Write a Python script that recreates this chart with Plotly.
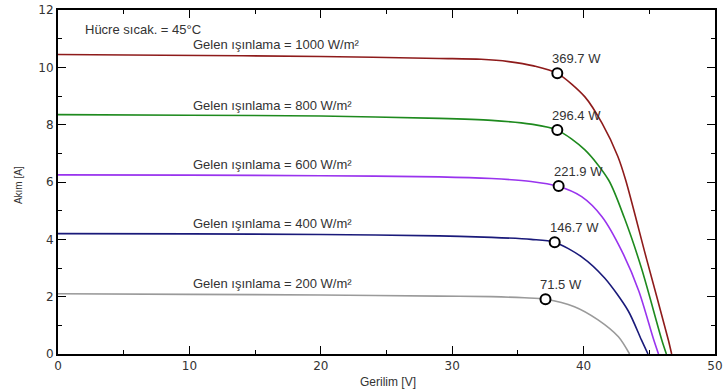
import plotly.graph_objects as go

# ---- data ----
irradiance_labels = ["Gelen ışınlama = 1000 W/m²", "Gelen ışınlama = 800 W/m²",
                     "Gelen ışınlama = 600 W/m²", "Gelen ışınlama = 400 W/m²",
                     "Gelen ışınlama = 200 W/m²"]
colors = ["#8e1b1b", "#1e8a1e", "#9933ee", "#1a1a7a", "#9a9a9a"]

v_1000 = [0, 8, 20, 29, 32.2, 34.3, 36.2, 38.0, 40.1, 41.4, 42.6, 43.2, 44.8, 46.45, 46.7]
i_1000 = [10.45, 10.42, 10.38, 10.31, 10.28, 10.2, 10.05, 9.79, 8.97, 8.05, 6.9, 6.07, 3.3, 0.49, 0]

v_800 = [0, 10, 20, 29, 33, 36, 38.0, 40.1, 41.9, 43.1, 44.4, 45.95, 46.3]
i_800 = [8.35, 8.33, 8.3, 8.22, 8.15, 8.02, 7.81, 7.12, 6.07, 4.75, 3.0, 0.49, 0]

v_600 = [0, 10, 20, 29, 33, 36, 38.0, 39.85, 41.4, 42.9, 44.2, 45.3, 45.7]
i_600 = [6.25, 6.24, 6.22, 6.18, 6.12, 6.02, 5.86, 5.49, 4.79, 3.6, 2.2, 0.55, 0]

v_400 = [0, 10, 20, 29, 33, 36, 37.8, 39.85, 41.6, 43.4, 44.4, 44.9]
i_400 = [4.2, 4.19, 4.17, 4.12, 4.07, 4.0, 3.9, 3.39, 2.65, 1.5, 0.49, 0]

v_200 = [0, 10, 20, 29, 33, 35.5, 37.1, 39.3, 41.1, 42.65, 43.5]
i_200 = [2.1, 2.08, 2.06, 2.02, 2.0, 1.96, 1.91, 1.65, 1.19, 0.6, 0]

mpp_v = [38.0, 38.0, 38.1, 37.8, 37.1]
mpp_i = [9.79, 7.81, 5.86, 3.9, 1.91]
mpp_labels = ["369.7 W", "296.4 W", "221.9 W", "146.7 W", "71.5 W"]

label_v = [10.1, 10.1, 10.1, 10.1, 10.1]
label_i = [10.8, 8.68, 6.62, 4.56, 2.47]

temp_label = "Hücre sıcak. = 45°C"
x_title = "Gerilim [V]"
y_title = "Akım [A]"

curves_v = [v_1000, v_800, v_600, v_400, v_200]
curves_i = [i_1000, i_800, i_600, i_400, i_200]

fig = go.Figure()
for vv, ii, c in zip(curves_v, curves_i, colors):
    fig.add_trace(go.Scatter(x=vv, y=ii, mode="lines",
                             line=dict(color=c, width=1.6, shape="spline", smoothing=0.8),
                             showlegend=False, hoverinfo="skip"))

fig.add_trace(go.Scatter(x=mpp_v, y=mpp_i, mode="markers",
                         marker=dict(symbol="circle", size=10, color="white",
                                     line=dict(color="black", width=2)),
                         showlegend=False))

txt_font = dict(family="Liberation Sans, Arial, sans-serif", size=13, color="#333333")
for v, i, t in zip(mpp_v, mpp_i, mpp_labels):
    fig.add_annotation(x=v, y=i, text=t, showarrow=False, xanchor="left", yanchor="bottom",
                       xshift=-7, yshift=5, font=txt_font)
for v, i, t in zip(label_v, label_i, irradiance_labels):
    fig.add_annotation(x=v, y=i, text=t, showarrow=False, xanchor="left", yanchor="middle",
                       font=txt_font)
fig.add_annotation(x=1.9, y=11.32, text=temp_label, showarrow=False, xanchor="left",
                   yanchor="middle", font=txt_font)

# axis titles as annotations for exact placement
fig.add_annotation(xref="paper", yref="paper", x=0.502, y=0, yshift=-28, text=x_title,
                   showarrow=False, xanchor="center", yanchor="middle",
                   font=dict(family="Liberation Sans, Arial, sans-serif", size=12, color="#333333"))
fig.add_annotation(xref="paper", yref="paper", x=0, y=0.491, xshift=-40, text=y_title,
                   textangle=-90, showarrow=False, xanchor="center", yanchor="middle",
                   font=dict(family="Liberation Sans, Arial, sans-serif", size=10, color="#333333"))

axis_common = dict(showgrid=False, zeroline=False, showline=True, linecolor="black",
                   linewidth=2, mirror="ticks", ticks="inside", ticklen=8, tickwidth=1.2,
                   tickcolor="black", automargin=False,
                   tickfont=dict(family="DejaVu Sans, sans-serif", size=12, color="#333333"))

fig.update_xaxes(range=[0, 50], tick0=0, dtick=10,
                 minor=dict(dtick=5, ticks="inside", ticklen=4, tickcolor="black", tickwidth=1.2),
                 **axis_common)
fig.update_yaxes(range=[0, 12], tick0=0, dtick=2,
                 minor=dict(dtick=1, ticks="inside", ticklen=4, tickcolor="black", tickwidth=1.2),
                 **axis_common)

fig.update_layout(width=723, height=392, margin=dict(l=58, r=8, t=10, b=38),
                  plot_bgcolor="white", paper_bgcolor="white", showlegend=False)

# remove the default 8px page margin so the figure fills the window exactly
fig.write_html("out.html", config={"displayModeBar": False},
               post_script="document.body.style.margin='0px';")
